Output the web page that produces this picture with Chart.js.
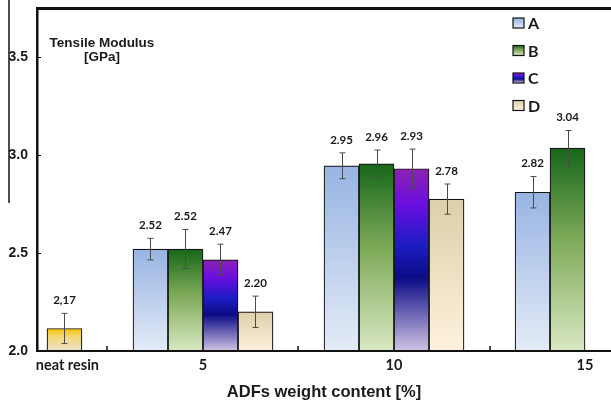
<!DOCTYPE html>
<html>
<head>
<meta charset="utf-8">
<script src="https://cdn.jsdelivr.net/npm/chart.js@4.4.1/dist/chart.umd.min.js"></script>
<style>
    html, body { margin: 0; padding: 0; background: #fff; }
    #wrap { width: 611px; height: 403px; }
</style>
</head>
<body>
<div id="wrap"><canvas id="chart" width="611" height="403"></canvas></div>
<script>
// --- Data ---
const categories = ['neat resin', '5', '10', '15'];
const categoryPos = [0, 1, 2, 3];
const seriesNames = ['A', 'B', 'C', 'D'];

const valuesA = [null, 2.52, 2.945, 2.81];
const valuesB = [null, 2.52, 2.955, 3.035];
const valuesC = [null, 2.465, 2.93, null];
const valuesD = [2.115, 2.20, 2.775, null];

const errorsA = [null, 0.055, 0.066, 0.08];
const errorsB = [null, 0.10, 0.07, 0.09];
const errorsC = [null, 0.08, 0.10, null];
const errorsD = [0.077, 0.08, 0.077, null];

const labelsA = ['', '2.52', '2.95', '2.82'];
const labelsB = ['', '2.52', '2.96', '3.04'];
const labelsC = ['', '2.47', '2.93', ''];
const labelsD = ['2,17', '2.20', '2.78', ''];

const yTicks = [2.0, 2.5, 3.0, 3.5];

const valueSets = [valuesA, valuesB, valuesC, valuesD];
const errorSets = [errorsA, errorsB, errorsC, errorsD];
const labelSets = [labelsA, labelsB, labelsC, labelsD];

// --- Styles ---
const gradA = [[0, '#97b4e2'], [1, '#e4ebf7']];
const gradB = [[0, '#17661a'], [0.45, '#7eaa58'], [1, '#d9e8c3']];
const gradC = [[0, '#8c22b4'], [0.2, '#6a0ee0'], [0.42, '#1c1cc4'], [0.6, '#0b0b86'], [1, '#d2c4e4']];
const gradD = [[0, '#dccfa9'], [1, '#fff2dd']];
const gradNeat = [[0, '#f7c200'], [0.35, '#f3d870'], [1, '#ece2cf']];
const seriesGrads = [gradA, gradB, gradC, gradD];
const NEAT_SHIFT = 0.29;
const BOLD_SANS = 'Liberation Sans, Arial, sans-serif';
const BOLD_CAL = 'Lato, Carlito, sans-serif';

function makeGradient(ctx, top, bottom, stops) {
    const g = ctx.createLinearGradient(0, top, 0, bottom);
    stops.forEach(s => g.addColorStop(s[0], s[1]));
    return g;
}

function barFill(c, si) {
    const stops = (si === 3 && c.dataIndex === 0) ? gradNeat : seriesGrads[si];
    if (c.type !== 'data' || c.raw == null || !c.chart.chartArea) return stops[0][1];
    const y = c.chart.scales.y;
    return makeGradient(c.chart.ctx, y.getPixelForValue(c.raw), y.getPixelForValue(y.min), stops);
}

const decor = {
    id: 'decor',
    afterDatasetsDraw(chart) {
        const { ctx, chartArea, scales: { x, y } } = chart;
        ctx.save();

        // error bars and value labels
        chart.data.datasets.forEach((ds, si) => {
            const meta = chart.getDatasetMeta(si);
            meta.data.forEach((bar, i) => {
                const v = ds.data[i];
                if (v == null) return;
                const err = errorSets[si][i];
                const top = y.getPixelForValue(v + err);
                const bot = y.getPixelForValue(v - err);
                const bx = Math.round(bar.x) + 0.5;
                ctx.strokeStyle = '#4a4a4a';
                ctx.lineWidth = 1;
                ctx.beginPath();
                ctx.moveTo(bx, top); ctx.lineTo(bx, bot);
                ctx.moveTo(bx - 3, top); ctx.lineTo(bx + 3, top);
                ctx.moveTo(bx - 3, bot); ctx.lineTo(bx + 3, bot);
                ctx.stroke();

                ctx.fillStyle = '#1a1a1a';
                ctx.font = 'bold 11.5px ' + BOLD_CAL;
                ctx.textAlign = 'center';
                ctx.textBaseline = 'middle';
                ctx.fillText(labelSets[si][i], bar.x, top - 13);
            });
        });

        // top frame line
        ctx.strokeStyle = '#111';
        ctx.lineWidth = 3;
        ctx.beginPath();
        ctx.moveTo(chartArea.left, chartArea.top + 0.5);
        ctx.lineTo(chartArea.right, chartArea.top + 0.5);
        ctx.stroke();

        // inner tick marks
        ctx.lineWidth = 1.5;
        ctx.beginPath();
        for (let k = 0; k < categoryPos.length - 1; k++) {
            const px = Math.round(x.getPixelForValue(categoryPos[k] + 0.5));
            ctx.moveTo(px, chartArea.bottom); ctx.lineTo(px, chartArea.bottom - 5);
        }
        ctx.stroke();
        ctx.lineWidth = 1;
        ctx.beginPath();
        yTicks.slice(1).forEach(v => {
            const py = Math.round(y.getPixelForValue(v)) + 0.5;
            ctx.moveTo(chartArea.left, py); ctx.lineTo(chartArea.left + 4, py);
        });
        ctx.stroke();

        // legend
        seriesNames.forEach((name, si) => {
            const cy = 23 + si * 27.5;
            ctx.fillStyle = makeGradient(ctx, cy - 5, cy + 5, seriesGrads[si]);
            ctx.fillRect(513, cy - 5, 11, 10);
            ctx.strokeStyle = '#111';
            ctx.lineWidth = 1.2;
            ctx.strokeRect(513, cy - 5, 11, 10);
            ctx.fillStyle = '#1a1a1a';
            ctx.font = 'bold 16px ' + BOLD_CAL;
            ctx.textAlign = 'left';
            ctx.textBaseline = 'middle';
            ctx.fillText(name, 528, cy + 1);
        });

        // y title inside the plot
        ctx.font = 'bold 13.5px ' + BOLD_SANS;
        ctx.textAlign = 'center';
        ctx.textBaseline = 'alphabetic';
        ctx.fillText('Tensile Modulus', 102, 47);
        ctx.fillText('[GPa]', 102, 61);

        // stray vertical line at the far left
        ctx.strokeStyle = '#111';
        ctx.lineWidth = 1.5;
        ctx.beginPath();
        ctx.moveTo(9, 0); ctx.lineTo(9, 203);
        ctx.stroke();

        ctx.restore();
    }
};

new Chart(document.getElementById('chart'), {
    type: 'bar',
    data: {
        labels: categoryPos,
        datasets: seriesNames.map((name, si) => ({
            label: name,
            data: valueSets[si],
            backgroundColor: (c) => barFill(c, si),
            borderColor: '#151515',
            borderWidth: 1.2,
            borderSkipped: false,
            barThickness: 35
        }))
    },
    options: {
        responsive: false,
        animation: false,
        devicePixelRatio: 1,
        layout: { padding: 0 },
        plugins: { legend: { display: false }, tooltip: { enabled: false } },
        scales: {
            x: {
                type: 'linear',
                offset: false,
                min: 0.131,
                max: 3.136,
                afterBuildTicks: (s) => {
                    s.ticks = categoryPos.map((p, i) => ({ value: i === 0 ? p + NEAT_SHIFT : p }));
                },
                ticks: {
                    autoSkip: false,
                    maxRotation: 0,
                    padding: 6,
                    color: '#1a1a1a',
                    font: { family: BOLD_CAL, weight: 'bold', size: 14.5 },
                    callback: (v, i) => categories[i]
                },
                grid: { display: false, drawTicks: false },
                border: { display: true, color: '#111', width: 2, z: 1 },
                title: {
                    display: true,
                    text: 'ADFs weight content [%]',
                    color: '#1a1a1a',
                    font: { family: BOLD_SANS, weight: 'bold', size: 16.5 },
                    padding: { top: 0, bottom: 1 }
                },
                afterFit: (s) => { s.height = 52; s.paddingLeft = 0; s.paddingRight = 0; }
            },
            y: {
                min: 2.0,
                max: 3.75,
                afterBuildTicks: (s) => { s.ticks = yTicks.map(v => ({ value: v })); },
                ticks: {
                    padding: 9,
                    color: '#1a1a1a',
                    font: { family: BOLD_SANS, weight: 'bold', size: 14 },
                    callback: (v) => v.toFixed(1)
                },
                grid: { display: false, drawTicks: false },
                border: { display: true, color: '#111', width: 2.5, z: 1 },
                afterFit: (s) => { s.width = 37; s.paddingTop = 8; s.paddingBottom = 0; }
            }
        }
    },
    plugins: [decor]
});
</script>
</body>
</html>
